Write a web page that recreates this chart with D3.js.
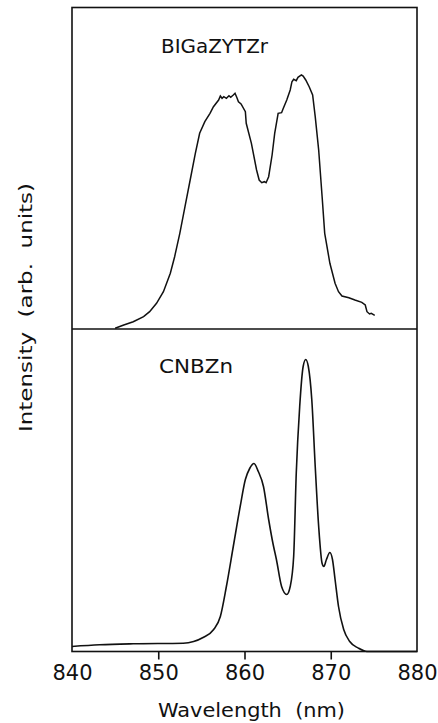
<!DOCTYPE html>
<html>
<head>
<meta charset="utf-8">
<script src="https://cdn.jsdelivr.net/npm/d3@7"></script>
<style>
  body { margin: 0; background: #fff; }
  svg { display: block; }
  text { font-family: "DejaVu Sans", sans-serif; fill: #111; white-space: pre; }
</style>
</head>
<body>
<svg id="chart" width="438" height="723"></svg>
<script>
// wavelength axis (nm)
const xTicks = [840, 850, 860, 870, 880];

// BIGaZYTZr spectrum, arb. units
const bigWave = [845.0, 846.0, 847.1, 848.3, 849.0, 849.8, 850.6, 851.4, 851.9, 852.5,
  853.1, 853.7, 854.3, 854.8, 855.4, 856.0, 856.4, 857.0, 857.2, 857.4, 857.6, 857.9,
  858.2, 858.4, 858.7, 858.9, 859.1, 859.3, 859.6, 860.1, 860.2, 860.8, 861.4, 861.7,
  862.0, 862.3, 862.5, 862.8, 863.2, 863.5, 863.9, 864.3, 864.5, 864.9, 865.3, 865.5,
  865.7, 866.0, 866.2, 866.6, 866.8, 867.1, 867.5, 867.9, 868.2, 868.6, 869.0, 869.3,
  869.9, 870.5, 870.9, 871.3, 872.1, 872.8, 873.6, 874.0, 874.2, 874.5, 874.7, 875.1];
const bigInt = [0.7, 4, 7.3, 12.3, 17.3, 25.7, 37.3, 55.7, 72.3, 95.7,
  122.3, 149, 175.7, 195.7, 207.3, 215.7, 222.3, 229, 233, 230.7, 232.3, 230.7,
  233.3, 231.7, 234, 235.7, 231.7, 227.3, 225, 217.3, 205.7, 185.7, 159, 149,
  146.3, 147.3, 146.3, 152.3, 174, 195.7, 215.7, 216.3, 220.7, 229, 239, 247.3,
  249.7, 248.3, 251.7, 254, 253, 249, 242.3, 234, 212.3, 179, 132.3, 95.7,
  65.7, 45.7, 37.3, 33, 31.3, 29, 26.7, 24, 17.3, 15, 15.7, 13.7];

// CNBZn spectrum, arb. units
const cnbWave = [840.0, 843.2, 847.1, 852.9, 854.1, 855.2, 856.4, 857.2, 857.9, 858.7,
  859.5, 860.1, 860.6, 861.1, 861.6, 862.2, 862.8, 863.3, 863.7, 864.3, 864.9, 865.3,
  865.7, 866.0, 866.4, 866.8, 867.1, 867.4, 867.8, 868.2, 868.6, 869.0, 869.2, 869.5,
  869.9, 870.2, 870.5, 870.9, 871.5, 872.2, 873.2, 874.2, 877.0, 880.0];
const cnbInt = [5, 6.7, 7.7, 8.3, 10, 14, 21.7, 35, 65, 105,
  145, 172, 183, 188, 180, 165, 132, 108, 92, 65, 57, 65,
  95, 178, 245, 285, 292, 285, 252, 185, 125, 88, 85, 92,
  99, 92, 72, 45, 22, 10, 3.4, 0, 0, 0];

const panelNames = ["BIGaZYTZr", "CNBZn"];

const svg = d3.select("#chart");
const x0 = 72, x1 = 417, yTopEdge = 7.5, yMid = 329, yBottom = 651.5;

const x = d3.scaleLinear().domain([840, 880]).range([x0, x1]);
const yTop = d3.scaleLinear().domain([0, 321.5]).range([yMid, yTopEdge]);
const yBot = d3.scaleLinear().domain([0, 322.5]).range([yBottom, yMid]);

const lineTop = d3.line()
  .x((d, i) => x(bigWave[i]))
  .y(d => yTop(d));
const lineBot = d3.line()
  .x((d, i) => x(cnbWave[i]))
  .y(d => yBot(d))
  .curve(d3.curveMonotoneX);

svg.append("path")
  .datum(bigInt)
  .attr("d", lineTop)
  .attr("fill", "none")
  .attr("stroke", "#111")
  .attr("stroke-width", 1.5);

svg.append("path")
  .datum(cnbInt)
  .attr("d", lineBot)
  .attr("fill", "none")
  .attr("stroke", "#111")
  .attr("stroke-width", 1.6);

// frame and divider
svg.append("rect")
  .attr("x", x0).attr("y", yTopEdge)
  .attr("width", x1 - x0).attr("height", yBottom - yTopEdge)
  .attr("fill", "none").attr("stroke", "#111").attr("stroke-width", 1.6);
svg.append("line")
  .attr("x1", x0).attr("x2", x1).attr("y1", yMid).attr("y2", yMid)
  .attr("stroke", "#111").attr("stroke-width", 1.6);

// bottom axis
const xAxis = d3.axisBottom(x).tickValues(xTicks).tickSize(8).tickFormat(d3.format("d"));
const gx = svg.append("g").attr("transform", `translate(0,${yBottom})`).call(xAxis);
gx.select(".domain").remove();
gx.selectAll(".tick line")
  .attr("stroke", "#111").attr("stroke-width", 1.6)
  .filter(d => d === 840 || d === 880).remove();
gx.selectAll(".tick text")
  .attr("y", 28.5).attr("dy", 0)
  .attr("font-family", "DejaVu Sans")
  .style("font-size", "21px");

svg.append("text")
  .attr("x", (x0 + x1) / 2 + 7)
  .attr("y", 716.5)
  .attr("text-anchor", "middle")
  .attr("textLength", 187)
  .attr("lengthAdjust", "spacingAndGlyphs")
  .style("font-size", "19px")
  .text("Wavelength  (nm)");

svg.append("text")
  .attr("transform", "translate(32,307.5) rotate(-90)")
  .attr("text-anchor", "middle")
  .attr("textLength", 249)
  .attr("lengthAdjust", "spacingAndGlyphs")
  .style("font-size", "18px")
  .text("Intensity  (arb.  units)");

// panel labels
svg.append("text")
  .attr("x", 161).attr("y", 53)
  .attr("textLength", 107)
  .attr("lengthAdjust", "spacingAndGlyphs")
  .style("font-size", "19px")
  .text(panelNames[0]);
svg.append("text")
  .attr("x", 159).attr("y", 373)
  .attr("textLength", 74)
  .attr("lengthAdjust", "spacingAndGlyphs")
  .style("font-size", "19px")
  .text(panelNames[1]);
</script>
</body>
</html>
